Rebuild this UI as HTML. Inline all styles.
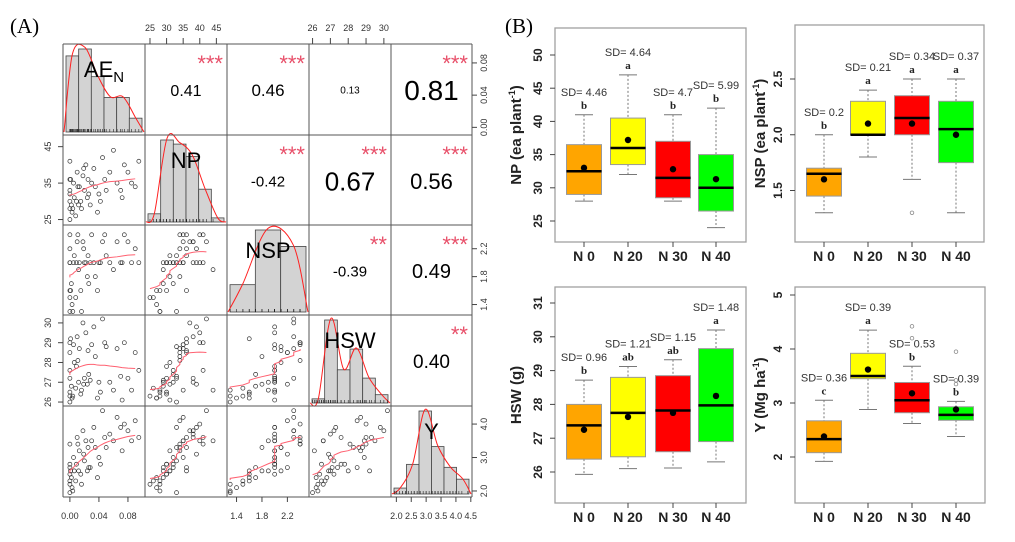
<!DOCTYPE html>
<html><head><meta charset="utf-8"><style>
html,body{margin:0;padding:0;background:#fff;width:1015px;height:542px;overflow:hidden}
svg{display:block;font-family:"Liberation Sans",sans-serif}
</style></head><body>
<svg id="fig" width="1015" height="542" viewBox="0 0 1015 542">
<text x="10" y="33" font-family="Liberation Serif,serif" font-size="21">(A)</text>
<text x="505" y="33" font-family="Liberation Serif,serif" font-size="21">(B)</text>
<g id="pairs"></g>
<g id="boxes"></g>
</svg>
<script>
// ---------- Panel A data ----------
const varNames = ["AE","NP","NSP","HSW","Y"];
const AEN = [0,0,0,0,0,0,0,0.002,0.003,0.005,0.006,0.008,0.01,0.012,0.013,0.015,0.016,0.018,0.02,0.022,0.024,0.025,0.028,0.03,0.033,0.035,0.038,0.04,0.042,0.045,0.048,0.05,0.055,0.06,0.065,0.07,0.072,0.075,0.08,0.085,0.09,0.095,0.001,0.004,0.009,0.011,0.019,0.026];
const NP = [28,30,33,36,25,41,32,29,27,35,31,26,38,29,34,30,28,37,33,40,31,36,29,35,39,34,27,32,30,42,36,33,38,44,35,33,31,40,38,35,34,41,36,28,30,34,39,32];
const NSP = [1.6,2.0,1.3,2.2,1.5,2.4,2.0,1.7,1.4,2.0,2.1,1.5,2.3,1.9,2.0,1.6,1.3,2.3,2.0,2.0,1.8,2.1,2.0,2.4,2.0,1.8,1.6,2.0,2.0,2.3,2.4,2.1,2.0,1.9,2.3,2.0,2.0,2.4,2.3,2.0,2.2,2.0,1.6,1.3,2.0,2.4,2.2,1.7];
const HSW = [26.5,27.2,26.0,28.5,26.3,29.0,27.6,26.8,26.2,28.9,28.0,26.7,29.3,27.0,28.7,26.4,26.6,30.0,27.2,29.5,26.9,28.6,27.1,28.9,29.8,28.3,26.2,27.0,26.5,30.2,29.0,28.8,27.0,26.6,28.7,27.3,26.1,29.0,27.2,26.6,28.5,27.6,29.2,26.3,27.8,28.1,26.9,27.4];
const YLD = [2.3,2.5,1.95,2.7,2.2,3.4,2.8,2.4,2.1,3.0,2.6,2.3,3.6,2.6,3.2,2.5,2.2,3.8,2.9,3.5,2.6,3.3,2.7,3.5,3.9,3.3,2.4,3.0,2.8,4.4,3.6,3.3,3.7,3.5,4.2,3.9,3.2,4.0,3.8,3.5,4.1,3.6,2.6,2.0,2.8,3.4,3.1,2.7];
const histAEN = [11,12,8,5,5,2];
const histNP = [2,20,19,16,8,1];
const histNSP = [5,15,12];
const histHSW = [1,20,8,13,6,2];
const histY = [2,10,28,16,9,5];
const corrValues = ["0.41","0.46","0.13","0.81","-0.42","0.67","0.56","-0.39","0.49","0.40"];
const corrStars = ["***","***","","***","***","***","***","**","***","**"];
const corrSizes = [16,17,10,28,15,26,22,15,20,19];
const ticksNP = [25,30,35,40,45];
const ticksHSW = [26,27,28,29,30];
const ticksAEN = ["0.00","0.04","0.08"];
const ticksNSP = ["1.4","1.8","2.2"];
const ticksY = ["2.0","2.5","3.0","3.5","4.0","4.5"];

const NS="http://www.w3.org/2000/svg";
function mk(parent,tag,attrs,text){const e=document.createElementNS(NS,tag);for(const k in attrs)e.setAttribute(k,attrs[k]);if(text!==undefined)e.textContent=text;parent.appendChild(e);return e;}

const cols=[63,145,227,309,391,472], rows=[44,135,225,315,406,497];
const series=[AEN,NP,NSP,HSW,YLD];
const ranges=[[-0.0095,0.1035],[23.5,48.2],[1.25,2.54],[25.8,30.4],[1.82,4.54]];
const hists=[histAEN,histNP,histNSP,histHSW,histY];
const pairs=document.getElementById('pairs');
function sx(v,j){const r=ranges[j];return cols[j]+(v-r[0])/(r[1]-r[0])*(cols[j+1]-cols[j]);}
function sy(v,i){const r=ranges[i];return rows[i+1]-(v-r[0])/(r[1]-r[0])*(rows[i+1]-rows[i]);}
function smooth(xs,ys){const idx=xs.map((_,k)=>k).sort((a,b)=>xs[a]-xs[b]);const n=idx.length,pts=[];const w=Math.max(5,Math.round(n*0.35));
  for(let k=0;k<n;k+=2){let s=0,c=0;for(let m=Math.max(0,k-w);m<=Math.min(n-1,k+w);m++){const wt=1-Math.abs(m-k)/(w+1);s+=ys[idx[m]]*wt;c+=wt;}pts.push([xs[idx[k]],s/c]);}
  return pts;}

let ci=0;
for(let i=0;i<5;i++)for(let j=0;j<5;j++){
  const x0=cols[j],x1=cols[j+1],y0=rows[i],y1=rows[i+1],w=x1-x0,h=y1-y0;
  if(i===j){
    const hist=hists[i],mx=Math.max(...hist),bw=(w-6)/hist.length;
    const hg=mk(pairs,'g',{});
    
    
    const tops=[];
    hist.forEach((c,k)=>{const bh=c/mx*(h-8);const r=mk(hg,'rect',{x:x0+3+k*bw,y:y1-3-bh,width:bw,height:bh,fill:'#d3d3d3',stroke:'#444','stroke-width':0.8});
      tops.push([x0+3+(k+0.5)*bw,y1-3-bh*1.02]);});
    let d='M'+(x0+1)+','+(y1-3);const pts=[[x0+1,y1-3],...tops,[x1-1,y1-3]];
    for(let k=1;k<pts.length;k++){const p0=pts[Math.max(0,k-2)],p1=pts[k-1],p2=pts[k],p3=pts[Math.min(pts.length-1,k+1)];
      d+=' C'+(p1[0]+(p2[0]-p0[0])/6)+','+(p1[1]+(p2[1]-p0[1])/6)+' '+(p2[0]-(p3[0]-p1[0])/6)+','+(p2[1]-(p3[1]-p1[1])/6)+' '+p2[0]+','+p2[1];}
    const dc=mk(hg,'path',{d:d,fill:'none',stroke:'#ff2020','stroke-width':1});
    
    series[i].forEach(v=>mk(hg,'line',{x1:sx(v,j),x2:sx(v,j),y1:y1-3,y2:y1-6,stroke:'#222','stroke-width':0.6}));
    const lab=mk(pairs,'text',{x:x0+w/2,y:y0+33,'font-size':22,'text-anchor':'middle'});
    
    lab.textContent=varNames[i];
    if(i===0){mk(lab,'tspan',{'font-size':15,dy:5},'N');}
  } else if(i>j){
    const sg=mk(pairs,'g',{});
    
    
    series[j].forEach((v,k)=>{const c=mk(sg,'circle',{cx:sx(v,j),cy:sy(series[i][k],i),r:2,fill:'none',stroke:'#333','stroke-width':0.7});
      });
    const sm=smooth(series[j],series[i]);
    const ln=mk(sg,'polyline',{points:sm.map(p=>sx(p[0],j)+','+sy(p[1],i)).join(' '),fill:'none',stroke:'#ff6070','stroke-width':1});
    
  } else {
    const k=ci++;
    if(corrStars[k]){const st=mk(pairs,'text',{x:x1-4,y:y0+27,'font-size':22,fill:'#e8506a','text-anchor':'end'},corrStars[k]);
      }
    const t=mk(pairs,'text',{x:x0+w/2,y:y0+46+corrSizes[k]*0.36,'font-size':corrSizes[k],'text-anchor':'middle'},corrValues[k]);
    
  }
}
for(let k=0;k<6;k++){mk(pairs,'line',{x1:cols[k],x2:cols[k],y1:rows[0],y2:rows[5],stroke:'#555','stroke-width':1});
  mk(pairs,'line',{x1:cols[0],x2:cols[5],y1:rows[k],y2:rows[k],stroke:'#555','stroke-width':1});}
function topAxis(j,ticks){ticks.forEach(t=>{const x=sx(+t,j);mk(pairs,'line',{x1:x,x2:x,y1:rows[0],y2:rows[0]-6,stroke:'#444'});
  const e=mk(pairs,'text',{x:x,y:rows[0]-13,'font-size':9,'text-anchor':'middle',fill:'#333'},t);});}
function botAxis(j,ticks){ticks.forEach(t=>{const x=sx(+t,j);mk(pairs,'line',{x1:x,x2:x,y1:rows[5],y2:rows[5]+5,stroke:'#444'});
  const e=mk(pairs,'text',{x:x,y:rows[5]+22,'font-size':9,'text-anchor':'middle',fill:'#333'},t);});}
function leftAxis(i,ticks){ticks.forEach(t=>{const y=sy(+t,i);mk(pairs,'line',{x1:cols[0],x2:cols[0]-5,y1:y,y2:y,stroke:'#444'});
  const e=mk(pairs,'text',{x:cols[0]-12,y:y,'font-size':9,'text-anchor':'middle',fill:'#333',transform:'rotate(-90 '+(cols[0]-12)+' '+y+')'},t);});}
function rightAxis(i,ticks){ticks.forEach(t=>{const y=sy(+t,i);mk(pairs,'line',{x1:cols[5],x2:cols[5]+5,y1:y,y2:y,stroke:'#444'});
  const e=mk(pairs,'text',{x:cols[5]+15,y:y,'font-size':9,'text-anchor':'middle',fill:'#333',transform:'rotate(-90 '+(cols[5]+15)+' '+y+')'},t);});}
topAxis(1,ticksNP.map(String));topAxis(3,ticksHSW.map(String));
botAxis(0,ticksAEN);botAxis(2,ticksNSP);botAxis(4,ticksY);
leftAxis(1,ticksNP.filter(v=>v%10===5).map(String));leftAxis(3,ticksHSW.map(String));
rightAxis(0,ticksAEN);rightAxis(2,ticksNSP);rightAxis(4,["2.0","3.0","4.0"]);

// ---------- Panel B data ----------
const groups = ["N 0","N 20","N 30","N 40"];
const colors = ["#ffa500","#ffff00","#ff0000","#00ff00"];
const npLo=[28,32,28,24], npQ1=[29,33.5,28.5,26.5], npMed=[32.5,36,31.5,30], npQ3=[36.5,40.5,37,35], npHi=[41,47,41,42], npMean=[33,37.2,32.8,31.3];
const npSD=["4.46","4.64","4.7","5.99"], npLet=["b","a","b","b"];
const nspLo=[1.3,1.8,1.6,1.3], nspQ1=[1.45,2.0,2.0,1.75], nspMed=[1.65,2.0,2.15,2.05], nspQ3=[1.7,2.3,2.35,2.3], nspHi=[2.0,2.4,2.5,2.5], nspMean=[1.6,2.1,2.1,2.0];
const nspSD=["0.2","0.21","0.34","0.37"], nspLet=["b","a","a","a"];
const hswLo=[25.93,26.1,26.12,26.3], hswQ1=[26.38,26.45,26.6,26.9], hswMed=[27.38,27.75,27.82,27.97], hswQ3=[28.0,28.8,28.85,29.65], hswHi=[28.72,29.12,29.32,30.2], hswMean=[27.25,27.63,27.75,28.25];
const hswSD=["0.96","1.21","1.15","1.48"], hswLet=["b","ab","ab","a"];
const yLo=[1.92,2.88,2.62,2.38], yQ1=[2.08,3.45,2.82,2.68], yMed=[2.33,3.5,3.05,2.78], yQ3=[2.67,3.92,3.38,2.93], yHi=[3.05,4.35,3.68,3.03], yMean=[2.38,3.62,3.18,2.88];
const ySD=["0.36","0.39","0.53","0.39"], yLet=["c","a","b","b"];
const nspOut=[[],[],[1.3],[]];
const yOut=[[],[],[4.42,4.2],[3.95,3.42,3.35]];
const npTicks=[25,30,35,40,45,50], nspTicks=["1.5","2.0","2.5"], hswTicks=[26,27,28,29,30,31], yTicks=[2,3,4,5];

const boxes=document.getElementById('boxes');
function boxPanel(name,fr,dom,ticks,title,sup,lo,q1,med,q3,hi,mean,sd,lets,outs,xs,titleX){
  const g=mk(boxes,'g',{});
  
  const Y=v=>dom.p0-(v-dom.v0)/(dom.v1-dom.v0)*(dom.p0-dom.p1);
  mk(g,'rect',{x:fr[0],y:fr[1],width:fr[2]-fr[0],height:fr[3]-fr[1],fill:'none',stroke:'#a0a0a0','stroke-width':1.3});
  ticks.forEach(t=>{const y=Y(+t);mk(g,'line',{x1:fr[0],x2:fr[0]-5,y1:y,y2:y,stroke:'#444'});
    const e=mk(g,'text',{x:fr[0]-13,y:y,'font-size':12,'font-weight':'bold','text-anchor':'middle',fill:'#222',transform:'rotate(-90 '+(fr[0]-13)+' '+y+')'},String(t));
    });
  const tt=mk(g,'text',{x:titleX,y:(fr[1]+fr[3])/2,'font-size':15,'font-weight':'bold','text-anchor':'middle',fill:'#222',transform:'rotate(-90 '+titleX+' '+((fr[1]+fr[3])/2)+')'});
  
  tt.textContent=title;
  if(sup){mk(tt,'tspan',{'font-size':9,dy:-6},sup);mk(tt,'tspan',{dy:6},')');}
  groups.forEach((gname,k)=>{const x=xs[k],bw=17.5;
    const bg=mk(g,'g',{});
    mk(bg,'line',{x1:x,x2:x,y1:Y(hi[k]),y2:Y(q3[k]),stroke:'#777','stroke-dasharray':'2,2'});
    mk(bg,'line',{x1:x,x2:x,y1:Y(q1[k]),y2:Y(lo[k]),stroke:'#777','stroke-dasharray':'2,2'});
    mk(bg,'line',{x1:x-9,x2:x+9,y1:Y(hi[k]),y2:Y(hi[k]),stroke:'#777'});
    mk(bg,'line',{x1:x-9,x2:x+9,y1:Y(lo[k]),y2:Y(lo[k]),stroke:'#777'});
    mk(bg,'rect',{x:x-bw,y:Y(q3[k]),width:bw*2,height:Y(q1[k])-Y(q3[k]),fill:colors[k],stroke:'#999','stroke-width':1});
    mk(bg,'line',{x1:x-bw,x2:x+bw,y1:Y(med[k]),y2:Y(med[k]),stroke:'#000','stroke-width':2.5});
    mk(bg,'circle',{cx:x,cy:Y(mean[k]),r:3.2,fill:'#000'});
    outs[k].forEach(o=>mk(bg,'circle',{cx:x,cy:Y(o),r:1.8,fill:'none',stroke:'#888','stroke-width':0.8}));
    const top=Y(hi[k]);
    const l=mk(g,'text',{x:x,y:top-6,'font-size':11,'font-weight':'bold','text-anchor':'middle','font-family':'Liberation Serif,serif',fill:'#222'},lets[k]);
    
    const s=mk(g,'text',{x:x,y:top-19,'font-size':11,'text-anchor':'middle',fill:'#333'},'SD= '+sd[k]);
    
    mk(g,'line',{x1:x,x2:x,y1:fr[3],y2:fr[3]+5,stroke:'#444'});
    const xl=mk(g,'text',{x:x,y:fr[3]+19,'font-size':14,'font-weight':'bold','text-anchor':'middle',fill:'#222'},gname);
    
  });
}
boxPanel('np-boxplot',[555,28,746,242],{v0:25,p0:221,v1:50,p1:55},npTicks,'NP (ea plant','-1',npLo,npQ1,npMed,npQ3,npHi,npMean,npSD,npLet,[[],[],[],[]],[584,628,673,716],521);
boxPanel('nsp-boxplot',[795,25,984,242],{v0:1.5,p0:190.5,v1:2.5,p1:79},nspTicks,'NSP (ea plant','-1',nspLo,nspQ1,nspMed,nspQ3,nspHi,nspMean,nspSD,nspLet,nspOut,[824,868,912,956],765);
boxPanel('hsw-boxplot',[555,287,746,503],{v0:26,p0:472,v1:31,p1:303},hswTicks,'HSW (g)','',hswLo,hswQ1,hswMed,hswQ3,hswHi,hswMean,hswSD,hswLet,[[],[],[],[]],[584,628,673,716],521);
boxPanel('y-boxplot',[795,287,985,503],{v0:2,p0:457,v1:5,p1:295},yTicks,'Y (Mg ha','-1',yLo,yQ1,yMed,yQ3,yHi,yMean,ySD,yLet,yOut,[824,868,912,956],765);
</script>
</body></html>
